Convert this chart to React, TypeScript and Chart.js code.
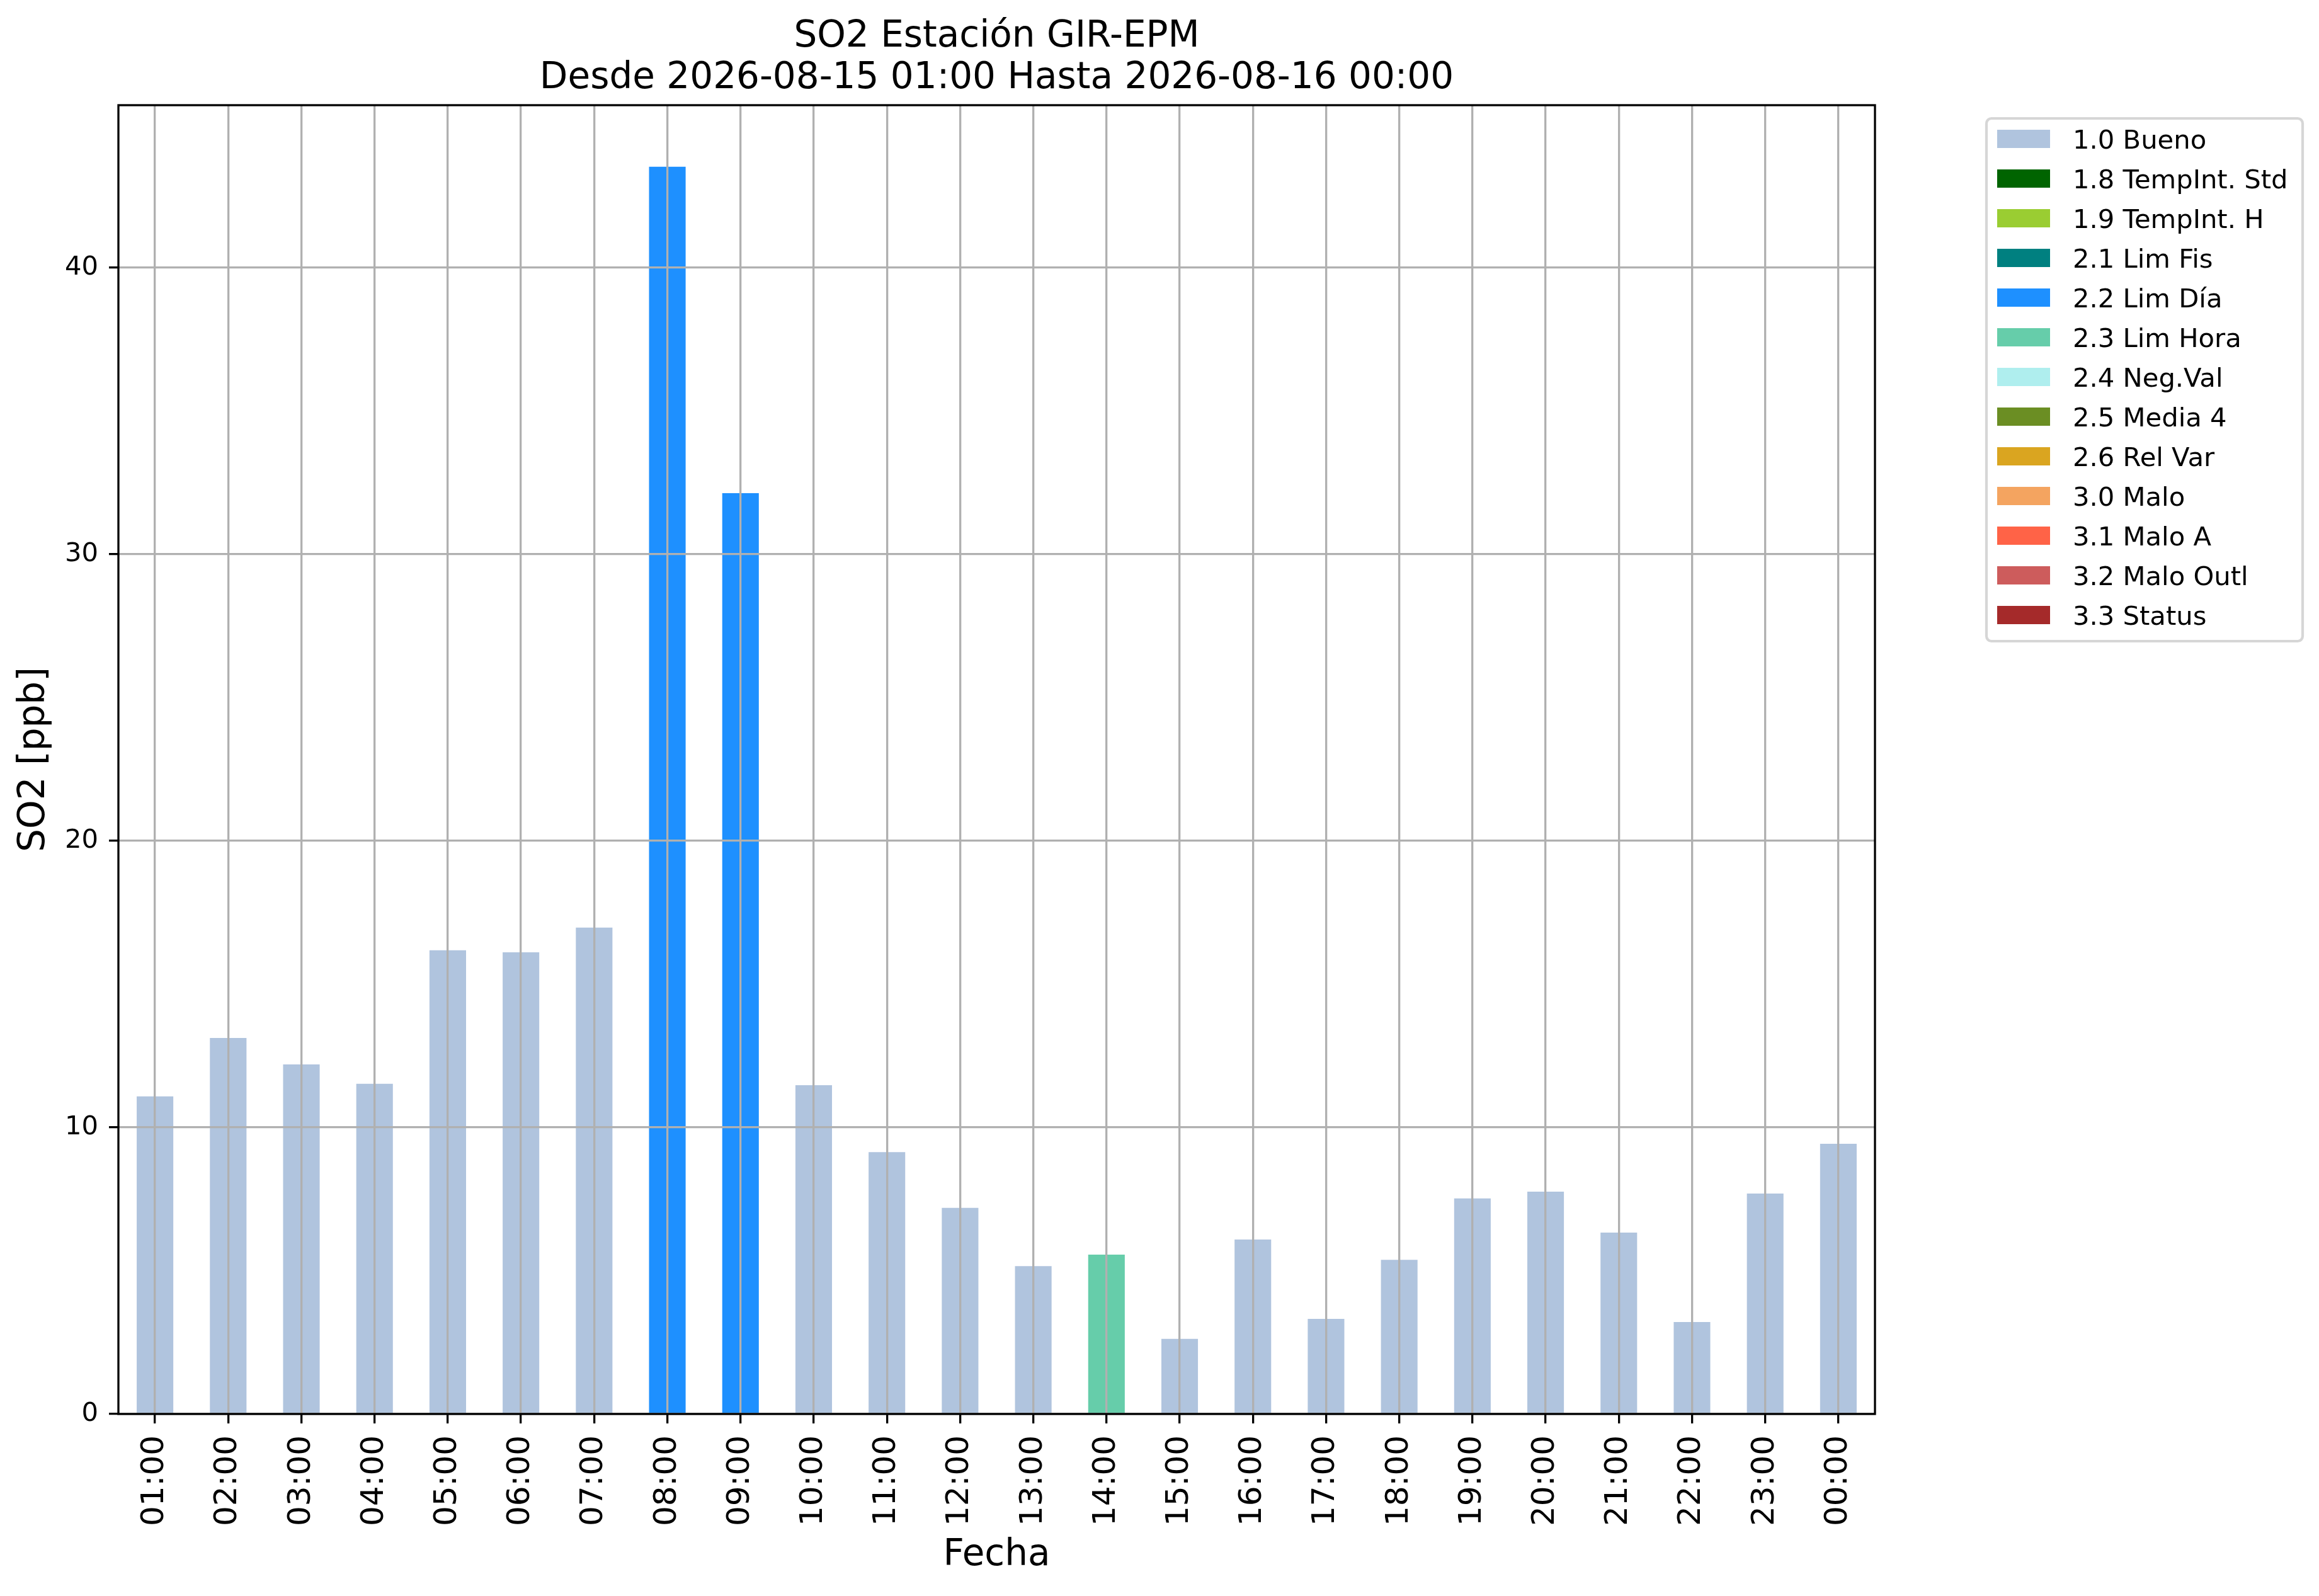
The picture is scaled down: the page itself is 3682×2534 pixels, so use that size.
import { useEffect, useRef } from 'react';
import Chart from 'chart.js/auto';

const hours = [
  '01:00', '02:00', '03:00', '04:00', '05:00', '06:00', '07:00', '08:00',
  '09:00', '10:00', '11:00', '12:00', '13:00', '14:00', '15:00', '16:00',
  '17:00', '18:00', '19:00', '20:00', '21:00', '22:00', '23:00', '00:00',
];

const so2 = [
  11.08, 13.12, 12.2, 11.52, 16.18, 16.11, 16.97, 43.52,
  32.13, 11.47, 9.14, 7.19, 5.16, 5.56, 2.62, 6.09,
  3.32, 5.38, 7.52, 7.76, 6.33, 3.21, 7.69, 9.43,
];

// validation flag of each hour
const hourFlags = [
  '1.0 Bueno', '1.0 Bueno', '1.0 Bueno', '1.0 Bueno', '1.0 Bueno', '1.0 Bueno', '1.0 Bueno', '2.2 Lim Día',
  '2.2 Lim Día', '1.0 Bueno', '1.0 Bueno', '1.0 Bueno', '1.0 Bueno', '2.3 Lim Hora', '1.0 Bueno', '1.0 Bueno',
  '1.0 Bueno', '1.0 Bueno', '1.0 Bueno', '1.0 Bueno', '1.0 Bueno', '1.0 Bueno', '1.0 Bueno', '1.0 Bueno',
];

const flagLabels = [
  '1.0 Bueno', '1.8 TempInt. Std', '1.9 TempInt. H', '2.1 Lim Fis', '2.2 Lim Día',
  '2.3 Lim Hora', '2.4 Neg.Val', '2.5 Media 4', '2.6 Rel Var', '3.0 Malo',
  '3.1 Malo A', '3.2 Malo Outl', '3.3 Status',
];

const flagColors = [
  '#b0c4de', '#006400', '#9acd32', '#008080', '#1e90ff',
  '#66cdaa', '#afeeee', '#6b8e23', '#daa520', '#f4a460',
  '#ff6347', '#cd5c5c', '#a52a2a',
];

const titleLines = ['SO2 Estación GIR-EPM', 'Desde 2026-08-15 01:00 Hasta 2026-08-16 00:00'];
const yTicks = [0, 10, 20, 30, 40];
const yMax = 45.67;

const FONT = '"DejaVu Sans"';
const GRID = '#b0b0b0';
const LW = 3.3;

// axes frame, title and the legend box drawn on top
const decorations = {
  id: 'decorations',
  afterDraw(chart: any) {
    const { ctx, chartArea: a } = chart;
    ctx.save();

    ctx.strokeStyle = '#000';
    ctx.lineWidth = LW;
    ctx.strokeRect(a.left, a.top, a.right - a.left, a.bottom - a.top);

    ctx.fillStyle = '#000';
    ctx.font = `58px ${FONT}`;
    ctx.textAlign = 'center';
    ctx.textBaseline = 'alphabetic';
    const cx = (a.left + a.right) / 2;
    titleLines.forEach((t, i) => ctx.fillText(t, cx, 74 + i * 65.5));

    // legend
    ctx.beginPath();
    ctx.roundRect(3154, 188, 502, 830, 8);
    ctx.fillStyle = '#fff';
    ctx.fill();
    ctx.strokeStyle = '#d6d6d6';
    ctx.lineWidth = 4.2;
    ctx.stroke();

    ctx.font = `41.7px ${FONT}`;
    ctx.textAlign = 'left';
    chart.data.datasets.forEach((ds: any, i: number) => {
      const y = 220.5 + i * 63;
      ctx.fillStyle = ds.backgroundColor;
      ctx.fillRect(3171, y - 14.5, 84, 29);
      ctx.fillStyle = '#000';
      ctx.fillText(ds.label, 3291, y + 15.2);
    });

    ctx.restore();
  },
};

export default function App() {
  const canvasRef = useRef<HTMLCanvasElement>(null);
  const chartRef = useRef<Chart | null>(null);

  useEffect(() => {
    document.body.style.margin = '0';
    if (!canvasRef.current) return;

    if (chartRef.current) {
      chartRef.current.destroy();
    }

    const datasets = flagLabels.map((label, k) => ({
      label,
      data: so2.map((v, i) => (hourFlags[i] === label ? v : null)),
      backgroundColor: flagColors[k],
      borderWidth: 0,
      categoryPercentage: 1,
      barPercentage: 0.5,
    }));

    chartRef.current = new Chart(canvasRef.current, {
      type: 'bar',
      data: { labels: hours, datasets },
      options: {
        animation: false,
        responsive: true,
        maintainAspectRatio: false,
        devicePixelRatio: 1,
        layout: { padding: { left: 0, top: 167, right: 705, bottom: 0 } },
        plugins: {
          legend: { display: false },
          title: { display: false },
          tooltip: { enabled: false },
        },
        scales: {
          x: {
            stacked: true,
            offset: true,
            grid: {
              z: 1,
              offset: false,
              color: GRID,
              lineWidth: LW,
              tickLength: 15,
              tickColor: '#000',
              tickWidth: LW,
            },
            border: { display: false },
            ticks: {
              autoSkip: false,
              maxRotation: 90,
              minRotation: 90,
              padding: 19,
              color: '#000',
              font: { family: FONT, size: 50 },
            },
            title: {
              display: true,
              text: 'Fecha',
              color: '#000',
              font: { family: FONT, size: 58 },
              padding: { top: 0, bottom: 29 },
            },
            afterFit: (s: any) => { s.height = 289; },
          },
          y: {
            stacked: true,
            min: 0,
            max: yMax,
            grid: {
              z: 1,
              color: GRID,
              lineWidth: LW,
              tickLength: 15,
              tickColor: '#000',
              tickWidth: LW,
            },
            border: { display: false },
            ticks: {
              stepSize: 10,
              includeBounds: false,
              padding: 17,
              color: '#000',
              font: { family: FONT, size: 41.7 },
            },
            afterBuildTicks: (s: any) => { s.ticks = yTicks.map((value) => ({ value })); },
            title: {
              display: true,
              text: 'SO2 [ppb]',
              color: '#000',
              font: { family: FONT, size: 58 },
              padding: { top: 20, bottom: 0 },
            },
            afterFit: (s: any) => { s.width = 188; },
          },
        },
      },
      plugins: [decorations],
    });

    return () => {
      if (chartRef.current) {
        chartRef.current.destroy();
        chartRef.current = null;
      }
    };
  }, []);

  return (
    <div style={{ position: 'relative', width: 3682, height: 2534, background: '#fff' }}>
      <canvas ref={canvasRef} />
    </div>
  );
}
